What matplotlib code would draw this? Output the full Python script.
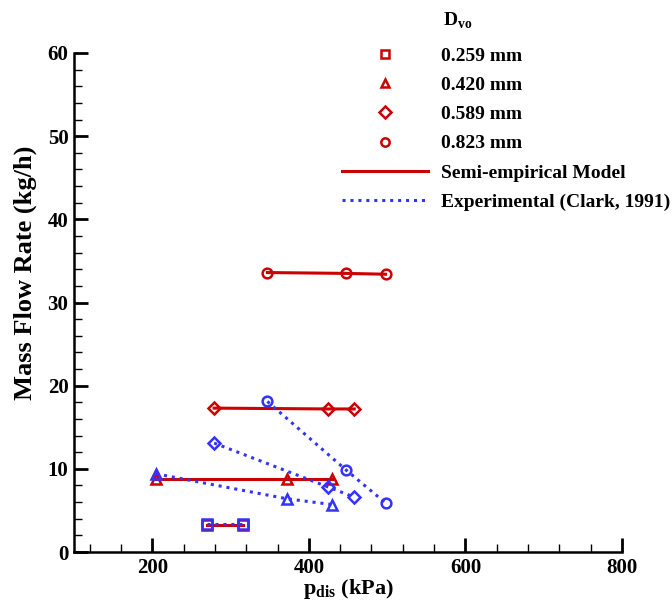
import matplotlib
matplotlib.use('Agg')
import matplotlib.pyplot as plt
from matplotlib.lines import Line2D
from matplotlib.ticker import MultipleLocator

plt.rcParams['font.family'] = 'Liberation Serif'
plt.rcParams['font.weight'] = 'bold'
plt.rcParams['mathtext.fontset'] = 'custom'
plt.rcParams['mathtext.rm'] = 'Liberation Serif:bold'
plt.rcParams['mathtext.bf'] = 'Liberation Serif:bold'

RED = '#cc0000'
BLUE = '#3333ff'

# semi-empirical model (red) and Clark 1991 experiments (blue), per orifice diameter
sq_x = [270, 316]
sq_model = [3.3, 3.3]
sq_exp = [3.4, 3.4]

tri_x = [205, 372, 430]
tri_model = [8.8, 8.8, 8.8]
tri_exp = [9.4, 6.4, 5.7]

dia_x = [279, 425, 458]
dia_model = [17.3, 17.2, 17.2]
dia_exp = [13.1, 7.8, 6.6]

cir_x = [347, 447, 498]
cir_model = [33.6, 33.5, 33.4]
cir_exp = [18.1, 9.9, 5.9]

labels = ['0.259 mm', '0.420 mm', '0.589 mm', '0.823 mm']
markers = ['s', '^', 'D', 'o']

fig = plt.figure(figsize=(6.72, 6.03), dpi=100)
ax = fig.add_axes([74/672, 51/603, 548/672, 499/603])

series = [(sq_x, sq_model, sq_exp), (tri_x, tri_model, tri_exp),
          (dia_x, dia_model, dia_exp), (cir_x, cir_model, cir_exp)]
for (x, ym, ye), m in zip(series, markers):
    ms = 6 if m == 'D' else 7
    ax.plot(x, ym, color=RED, lw=2.2, marker=m, ms=ms, mfc='none', mec=RED, mew=1.8, zorder=2)
    ax.plot(x, ye, color=BLUE, lw=2.2, ls=(0, (1, 1.6)), marker=m, ms=ms, mfc='none',
            mec=BLUE, mew=1.8, zorder=3)

ax.set_xlim(100, 800)
ax.set_ylim(0, 60)
ax.xaxis.set_major_locator(MultipleLocator(200))
ax.xaxis.set_minor_locator(MultipleLocator(40))
ax.yaxis.set_major_locator(MultipleLocator(10))
ax.yaxis.set_minor_locator(MultipleLocator(2))
ax.tick_params(which='major', direction='in', length=10, width=2, labelsize=15, pad=4)
ax.tick_params(which='minor', direction='in', length=6, width=1)
ax.spines['top'].set_visible(False)
ax.spines['right'].set_visible(False)
ax.spines['left'].set_linewidth(1.8)
ax.spines['bottom'].set_linewidth(1.8)

ax.set_xlabel(r'p$_{\mathrm{dis}}$ (kPa)', fontsize=16, fontweight='bold')
ax.set_ylabel('Mass Flow Rate (kg/h)', fontsize=19, fontweight='bold')
ax.yaxis.set_label_coords(-0.068, 0.56)
ax.xaxis.set_label_coords(0.5, -0.05)

handles = [Line2D([], [], ls='none', marker=m, ms=6, mfc='none', mec=RED, mew=1.8) for m in markers]
handles.append(Line2D([], [], color=RED, lw=2.2))
handles.append(Line2D([], [], color=BLUE, lw=2.2, ls=(0, (1, 1.6))))
fig.legend(handles, labels + ['Semi-empirical Model', 'Experimental (Clark, 1991)'],
           loc='upper left', bbox_to_anchor=(342/672, 1 - 47/603), frameon=False,
           fontsize=14, handlelength=4.4, handletextpad=0.7, labelspacing=0.6,
           borderpad=0, borderaxespad=0)
fig.text(443/672, 1 - 21/603, r'D$_{\mathrm{vo}}$', fontsize=14, fontweight='bold', va='center')

fig.savefig('out.png', dpi=100)
